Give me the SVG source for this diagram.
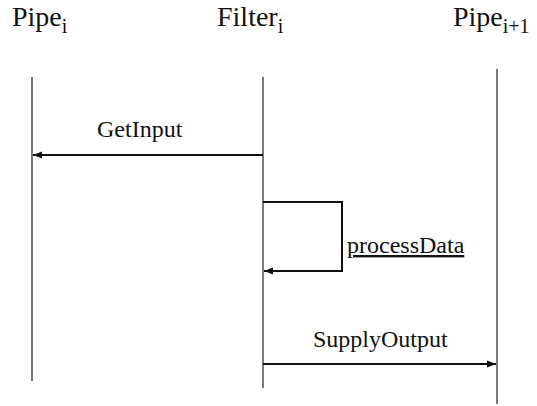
<svg xmlns="http://www.w3.org/2000/svg" width="537" height="406" viewBox="0 0 537 406">
<style>
text{font-family:'Liberation Serif','Times New Roman',serif;fill:#111}
.h{font-size:28px}
.sub{font-size:20px}
.lbl{font-size:24px}
.life{stroke:#333;stroke-width:1.3;fill:none}
.msg{stroke:#111;stroke-width:2;fill:none}
</style>
<defs>
<marker id="ah" markerWidth="10" markerHeight="8" refX="9" refY="4" orient="auto" markerUnits="userSpaceOnUse">
<path d="M0,0.5 L9,4 L0,7.5 Z" fill="#111"/>
</marker>
</defs>
<g id="pipe_i">
<text class="h" x="12" y="26" font-family="Liberation Serif, serif">Pipe<tspan class="sub" dy="7">i</tspan></text>
<line class="life" x1="32" y1="77" x2="32" y2="381"/>
</g>
<g id="filter_i">
<text class="h" x="217" y="26" font-family="Liberation Serif, serif">Filter<tspan class="sub" dy="7">i</tspan></text>
<line class="life" x1="263" y1="77" x2="263" y2="388"/>
</g>
<g id="pipe_i1">
<text class="h" x="453" y="26" font-family="Liberation Serif, serif">Pipe<tspan class="sub" dy="7">i+1</tspan></text>
<line class="life" x1="497" y1="69" x2="497" y2="404"/>
</g>
<g id="connectors">
<line class="msg" x1="263" y1="155" x2="33" y2="155" marker-end="url(#ah)"/>
<path class="msg" d="M263,202 H342 V271 H264" marker-end="url(#ah)"/>
<line class="msg" x1="263" y1="364" x2="496" y2="364" marker-end="url(#ah)"/>
<text class="lbl" x="97" y="137" font-family="Liberation Serif, serif">GetInput</text>
<text class="lbl" x="347" y="253" font-family="Liberation Serif, serif" text-decoration="underline">processData</text>
<text class="lbl" x="313" y="347" font-family="Liberation Serif, serif">SupplyOutput</text>
</g>
</svg>
